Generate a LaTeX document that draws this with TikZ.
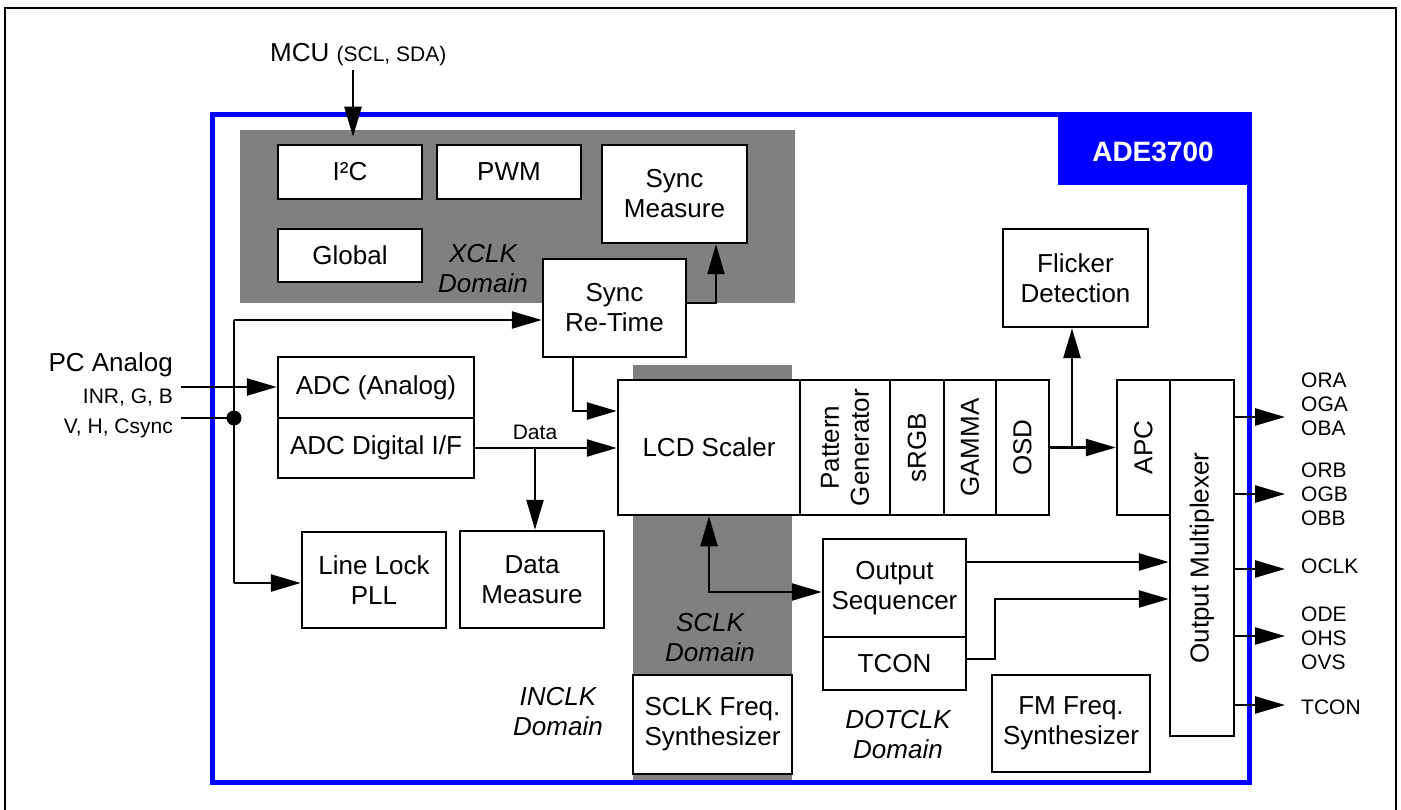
\documentclass[tikz,border=0pt]{standalone}
\usepackage{fontspec}
\setmainfont{Liberation Sans}
\usetikzlibrary{arrows.meta}
\newcommand\fm{\fontsize{26}{30}\selectfont}
\newcommand\fsm{\fontsize{21}{24}\selectfont}
\definecolor{dgray}{HTML}{808080}
\definecolor{cblue}{HTML}{0000FF}
\begin{document}
\begin{tikzpicture}[x=1pt,y=-1pt,
  box/.style={draw, fill=white, line width=2.5pt, inner sep=0pt, align=center, font=\fm},
  conn/.style={line width=2.5pt},
  arr/.style={line width=2.5pt, -{Triangle[length=30pt,width=17pt]}},
  biarr/.style={line width=2.5pt, {Triangle[length=30pt,width=17pt]}-{Triangle[length=30pt,width=17pt]}},
  dom/.style={font=\fm\itshape, align=center, inner sep=0pt},
  lab/.style={font=\fsm, inner sep=0pt, align=left},
  txt/.style={font=\fm, inner sep=0pt, align=center}]
\useasboundingbox (0,0) rectangle (1401,810);
% outer border
\draw[line width=2pt] (5,8) rectangle (1396,811);
% clock domain regions
\fill[dgray] (240,130) rectangle (795,303);
\fill[dgray] (633,365) rectangle (792,781);
% chip frame
\draw[cblue, line width=5pt] (212,115) rectangle (1249,782);
\fill[cblue] (1058,115) rectangle (1249,185);
\node[font=\bfseries\fontsize{28}{30}\selectfont, text=white, inner sep=0pt] (chip) at (1153,152) {ADE3700};

% boxes
\node[box, minimum width=144, minimum height=54] (i2c) at (350,172) {I²C};
\node[box, minimum width=144, minimum height=54] (pwm) at (509,172) {PWM};
\node[box, minimum width=145, minimum height=98] (smeas) at (674.5,194) {Sync\\Measure};
\node[box, minimum width=144, minimum height=53] (glob) at (350,255.5) {Global};
\node[box, minimum width=143, minimum height=98] (sret) at (614.5,308) {Sync\\Re-Time};
\node[box, minimum width=196, minimum height=61] (adca) at (376,387.5) {ADC (Analog)};
\node[box, minimum width=196, minimum height=60] (adcd) at (376,448) {ADC Digital I/F};
\node[box, minimum width=144, minimum height=96] (pll) at (374,580) {Line Lock\\PLL};
\node[box, minimum width=144, minimum height=97] (dmeas) at (532,579.5) {Data\\Measure};
\node[box, minimum width=182, minimum height=135] (lcd) at (709,447.5) {LCD Scaler};
\node[box, minimum width=90, minimum height=135] (pat) at (845,447.5) {};
\node[box, minimum width=54, minimum height=135] (srgb) at (917,447.5) {};
\node[box, minimum width=52, minimum height=135] (gam) at (970,447.5) {};
\node[box, minimum width=53, minimum height=135] (osd) at (1022.5,447.5) {};
\node[box, minimum width=145, minimum height=98] (flick) at (1075.5,278) {Flicker\\Detection};
\node[box, minimum width=53, minimum height=135] (apc) at (1143.5,447.5) {};
\node[box, minimum width=64, minimum height=356] (mux) at (1202,558) {};
\node[box, minimum width=143, minimum height=98] (oseq) at (894.5,588) {Output\\Sequencer};
\node[box, minimum width=143, minimum height=53] (tcon) at (894.5,663.5) {TCON};
\node[box, minimum width=159, minimum height=99] (sfs) at (712.5,724.5) {SCLK Freq.\\Synthesizer};
\node[box, minimum width=158, minimum height=97] (ffs) at (1071,723.5) {FM Freq.\\Synthesizer};

% rotated labels
\node[txt, rotate=90] (patl) at (pat.center) {Pattern\\Generator};
\node[txt, rotate=90] (srgbl) at (srgb.center) {sRGB};
\node[txt, rotate=90] (gaml) at (gam.center) {GAMMA};
\node[txt, rotate=90] (osdl) at (osd.center) {OSD};
\node[txt, rotate=90] (apcl) at (apc.center) {APC};
\node[txt, rotate=90] (muxl) at (mux.center) {Output Multiplexer};

% domain labels
\node[dom] (xd) at (483,269) {XCLK\\Domain};
\node[dom] (sd) at (710,638) {SCLK\\Domain};
\node[dom] (id) at (558,712) {INCLK\\Domain};
\node[dom] (dd) at (898,735) {DOTCLK\\Domain};

% external labels
\node[font=\fm, inner sep=0pt, anchor=west] (mcu) at (270,55) {MCU {\fsm (SCL, SDA)}};
\node[font=\fm, inner sep=0pt, anchor=east] (pca) at (173,365) {PC Analog};
\node[lab, anchor=east] (inrl) at (173,398) {INR, G, B};
\node[lab, anchor=east] (vhl) at (173,428) {V, H, Csync};
\node[lab, anchor=west] (lo1) at (1301,404) {ORA\\OGA\\OBA};
\node[lab, anchor=west] (lo2) at (1301,494) {ORB\\OGB\\OBB};
\node[lab, anchor=west] (lo3) at (1301,566) {OCLK};
\node[lab, anchor=west] (lo4) at (1301,638) {ODE\\OHS\\OVS};
\node[lab, anchor=west] (lo5) at (1301,707) {TCON};

% connectors
\coordinate (mcuA) at (353,70);
\draw[arr, shorten >=7pt] (mcuA) -- (mcuA |- i2c.north);

\coordinate (sr1) at (716,303);
\draw[arr] (sret.east |- sr1) -- (sr1) -- (sr1 |- smeas.south);

\coordinate (vt) at (234,320);
\coordinate (vb) at (234,583);
\coordinate (vd) at (234,418);
\draw[arr] (vt) -- (vt -| sret.west);
\draw[conn] (vt) -- (vb);
\draw[arr] (vb) -- (vb -| pll.west);
\fill (vd) circle (7.5pt);
\coordinate (inr) at (181,387);
\draw[arr] (inr) -- (inr -| adca.west);
\coordinate (vh) at (181,418);
\draw[conn] (vh) -- (vd);

\draw[arr] (adcd.east) -- (adcd.east -| lcd.west);
\coordinate (db) at (535,448);
\node[lab] (datal) at (535,432) {Data};
\draw[arr] (db) -- (db |- dmeas.north);

\coordinate (s2) at (573,411);
\draw[arr] (sret.south -| s2) -- (s2) -- (s2 -| lcd.west);

\coordinate (b1) at (709,592);
\draw[biarr] (lcd.south -| b1) -- (b1) -- (b1 -| oseq.west);

\draw[arr] (osd.east) -- (apc.west);
\coordinate (fb) at (1072,448);
\draw[arr] (fb) -- (fb |- flick.south);

\coordinate (q1) at (966,562);
\draw[arr] (q1) -- (q1 -| mux.west);
\coordinate (t1) at (995,659);
\coordinate (t2) at (995,599);
\draw[arr] (tcon.east |- t1) -- (t1) -- (t2) -- (t2 -| mux.west);

\foreach \yy [count=\i] in {417,494,569,636,705} {
  \coordinate (o\i) at (1285,\yy);
  \draw[arr] (mux.east |- o\i) -- (o\i);
}
\end{tikzpicture}
\end{document}
